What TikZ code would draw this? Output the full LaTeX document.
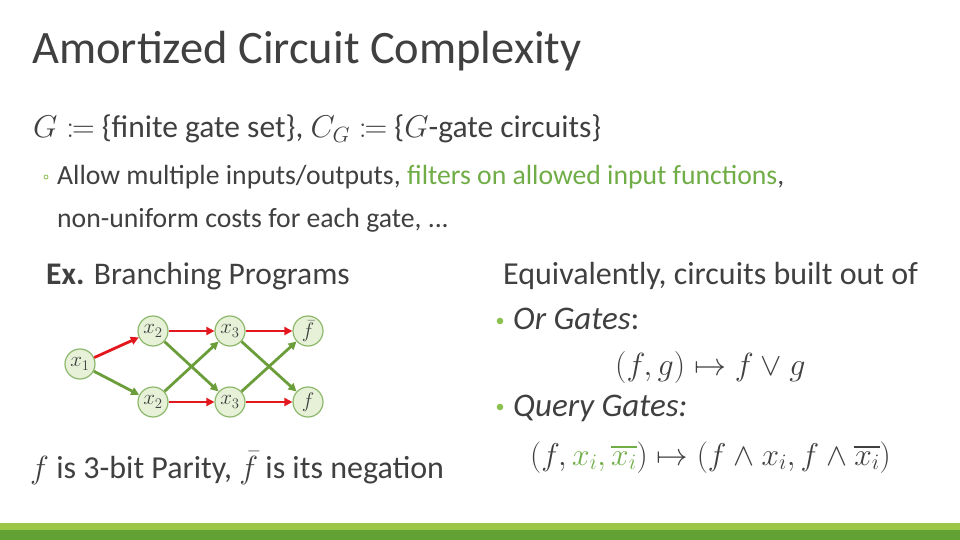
\documentclass[tikz,border=0pt]{standalone}
\usepackage{fix-cm}
\usepackage{amsmath,amssymb}
\usepackage{fontspec}
\setmainfont{Carlito}
\usetikzlibrary{arrows.meta}
\newcommand{\mycoloneq}{\mathrel{:\mkern-1.2mu=}}
\definecolor{txt}{HTML}{404040}
\definecolor{grn}{HTML}{70AD47}
\definecolor{bul}{HTML}{8CC152}
\definecolor{barlight}{HTML}{9BC545}
\definecolor{bardark}{HTML}{62A234}
\definecolor{nodefill}{HTML}{E6F1D8}
\definecolor{nodedraw}{HTML}{8DB86B}
\definecolor{ered}{HTML}{E3171E}
\definecolor{egrn}{HTML}{6B9E3A}
\tikzset{
  txtnode/.style={anchor=base west, inner sep=0pt, text=txt},
  vnode/.style={circle, draw=nodedraw, fill=nodefill, line width=1.2pt, minimum size=30pt, inner sep=0pt, font=\fontsize{21}{21}\selectfont, text=txt},
  redge/.style={draw=ered, line width=2.8pt, -{Triangle[length=8pt,width=8pt]}},
  gedge/.style={draw=egrn, line width=2.8pt, -{Triangle[length=8pt,width=8pt]}},
}
\begin{document}
\begin{tikzpicture}[x=1pt,y=-1pt]
\useasboundingbox (0,0) rectangle (960,540);
\fill[white] (0,0) rectangle (960,540);
% bottom bars
\fill[barlight] (0,523) rectangle (960,529.5);
\fill[bardark] (0,529.5) rectangle (960,540);
% title
\node[txtnode, font=\fontsize{46.5}{52}\selectfont] (title) at (32,64) {Amortized Circuit Complexity};
% line 1
\node[txtnode, font=\fontsize{31.5}{36}\selectfont] (l1) at (33,138) {$G \mycoloneq$ \{finite gate set\}, $C_G \mycoloneq$ \{$G$-gate circuits\}};
% bullet line
\draw[bul, line width=0.8pt] (46,177) circle (2pt);
\node[txtnode, font=\fontsize{27.7}{32}\selectfont] (l2) at (57,185) {Allow multiple inputs/outputs, \textcolor{grn}{filters on allowed input functions},};
\node[txtnode, font=\fontsize{27.7}{32}\selectfont] (l3) at (57,227) {non-uniform costs for each gate, ...};
% Ex.
\node[txtnode, font=\fontsize{31.5}{36}\selectfont] (ex) at (46,284) {\textbf{Ex.} Branching Programs};
% diagram
\node[vnode] (a) at (80,364) {$x_1$};
\node[vnode] (b1) at (153,331) {$x_2$};
\node[vnode] (b2) at (153,402) {$x_2$};
\node[vnode] (c1) at (230,331) {$x_3$};
\node[vnode] (c2) at (230,402) {$x_3$};
\node[vnode] (d1) at (308,331) {$\bar f$};
\node[vnode] (d2) at (308,402) {$f$};
\draw[gedge] (a) -- (b2);
\draw[gedge] (b1) -- (c2);
\draw[gedge] (b2) -- (c1);
\draw[gedge] (c1) -- (d2);
\draw[gedge] (c2) -- (d1);
\draw[redge] (a) -- (b1);
\draw[redge] (b1) -- (c1);
\draw[redge] (c1) -- (d1);
\draw[redge] (b2) -- (c2);
\draw[redge] (c2) -- (d2);
% caption
\node[txtnode, font=\fontsize{32}{36}\selectfont] (cap) at (30,478) {$f$ is 3-bit Parity, $\bar f$ is its negation};
% right column
\node[txtnode, font=\fontsize{32}{36}\selectfont] (eq) at (503,284) {Equivalently, circuits built out of};
\fill[bul] (500,321) circle (3.3pt);
\node[txtnode, font=\fontsize{33}{36}\selectfont] (or) at (513,329) {\textit{Or Gates}:};
\node[txtnode, font=\fontsize{32}{36}\selectfont] (orf) at (615,375) {$(f,g)\mapsto f\vee g$};
\fill[bul] (500,407) circle (3.3pt);
\node[txtnode, font=\fontsize{33}{36}\selectfont] (qg) at (513,416) {\textit{Query Gates:}};
\node[txtnode, font=\fontsize{31.5}{36}\selectfont] (qf) at (530,465) {$(f,\textcolor{grn}{x_i,\overline{x_i}})\mapsto(f\wedge x_i,f\wedge\overline{x_i})$};
\end{tikzpicture}
\end{document}
